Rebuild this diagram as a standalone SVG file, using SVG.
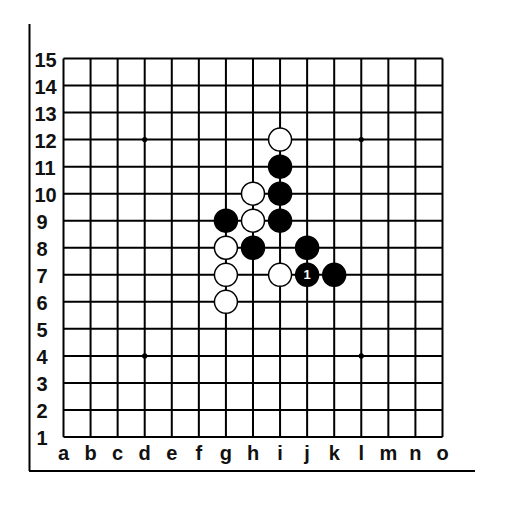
<svg xmlns="http://www.w3.org/2000/svg" width="512" height="512" viewBox="0 0 512 512">
<style>
.g{stroke:#000;stroke-width:2;fill:none}
.lbl{font-family:"Liberation Sans",Arial,sans-serif;font-weight:bold;font-size:20px;fill:#111}
.col{text-anchor:middle}
.w{fill:#fff;stroke:#000;stroke-width:1.5}
.b{fill:#000;stroke:#000;stroke-width:1.5}
.star{fill:#000}
</style>
<rect width="512" height="512" fill="#fff"/>
<g id="frame">
<line x1="29.5" y1="24" x2="29.5" y2="471" class="g"/>
<line x1="29" y1="471" x2="475" y2="471" class="g"/>
</g>
<g id="grid" class="g">
<path d="M63.5 58.5V437M90.57 58.5V437M117.64 58.5V437M144.71 58.5V437M171.78 58.5V437M198.85 58.5V437M225.92 58.5V437M252.99 58.5V437M280.06 58.5V437M307.13 58.5V437M334.2 58.5V437M361.27 58.5V437M388.34 58.5V437M415.41 58.5V437M442.5 58.5V437"/>
<path d="M63.5 58.5H442.5M63.5 85.54H442.5M63.5 112.57H442.5M63.5 139.61H442.5M63.5 166.64H442.5M63.5 193.68H442.5M63.5 220.71H442.5M63.5 247.75H442.5M63.5 274.79H442.5M63.5 301.82H442.5M63.5 328.86H442.5M63.5 355.89H442.5M63.5 382.93H442.5M63.5 409.96H442.5M63.5 437H442.5"/>
</g>
<g id="stars">
<circle class="star" cx="144.71" cy="139.61" r="2.6"/>
<circle class="star" cx="361.27" cy="139.61" r="2.6"/>
<circle class="star" cx="144.71" cy="355.89" r="2.6"/>
<circle class="star" cx="361.27" cy="355.89" r="2.6"/>
</g>
<g id="rows" class="lbl">
<text x="34.5" y="66.5">15</text>
<text x="34.5" y="93.5">14</text>
<text x="34.5" y="120.5">13</text>
<text x="34.5" y="147.5">12</text>
<text x="34.5" y="174.5">11</text>
<text x="34.5" y="201.5">10</text>
<text x="36.5" y="228.5">9</text>
<text x="36.5" y="255.5">8</text>
<text x="36.5" y="282.5">7</text>
<text x="36.5" y="309.5">6</text>
<text x="36.5" y="336.5">5</text>
<text x="36.5" y="363.5">4</text>
<text x="36.5" y="390.5">3</text>
<text x="36.5" y="417.5">2</text>
<text x="36.5" y="444.5">1</text>
</g>
<g id="cols" class="lbl col">
<text x="63.5" y="460">a</text>
<text x="90.57" y="460">b</text>
<text x="117.64" y="460">c</text>
<text x="144.71" y="460">d</text>
<text x="171.78" y="460">e</text>
<text x="198.85" y="460">f</text>
<text x="225.92" y="460">g</text>
<text x="252.99" y="460">h</text>
<text x="280.06" y="460">i</text>
<text x="307.13" y="460">j</text>
<text x="334.2" y="460">k</text>
<text x="361.27" y="460">l</text>
<text x="388.34" y="460">m</text>
<text x="415.41" y="460">n</text>
<text x="442.5" y="460">o</text>
</g>
<g id="stones">
<circle id="w-i12" class="w" cx="280.06" cy="139.61" r="11.5"/>
<circle id="b-i11" class="b" cx="280.06" cy="166.64" r="11.5"/>
<circle id="w-h10" class="w" cx="252.99" cy="193.68" r="11.5"/>
<circle id="b-i10" class="b" cx="280.06" cy="193.68" r="11.5"/>
<circle id="b-g9" class="b" cx="225.92" cy="220.71" r="11.5"/>
<circle id="w-h9" class="w" cx="252.99" cy="220.71" r="11.5"/>
<circle id="b-i9" class="b" cx="280.06" cy="220.71" r="11.5"/>
<circle id="w-g8" class="w" cx="225.92" cy="247.75" r="11.5"/>
<circle id="b-h8" class="b" cx="252.99" cy="247.75" r="11.5"/>
<circle id="b-j8" class="b" cx="307.13" cy="247.75" r="11.5"/>
<circle id="w-g7" class="w" cx="225.92" cy="274.79" r="11.5"/>
<circle id="w-i7" class="w" cx="280.06" cy="274.79" r="11.5"/>
<circle id="b-j7" class="b" cx="307.13" cy="274.79" r="11.5"/>
<circle id="b-k7" class="b" cx="334.2" cy="274.79" r="11.5"/>
<circle id="w-g6" class="w" cx="225.92" cy="301.82" r="11.5"/>
<text x="307.13" y="279.3" text-anchor="middle" font-family="Liberation Sans,sans-serif" font-weight="bold" font-size="13" fill="#fff">1</text>
</g>
</svg>
